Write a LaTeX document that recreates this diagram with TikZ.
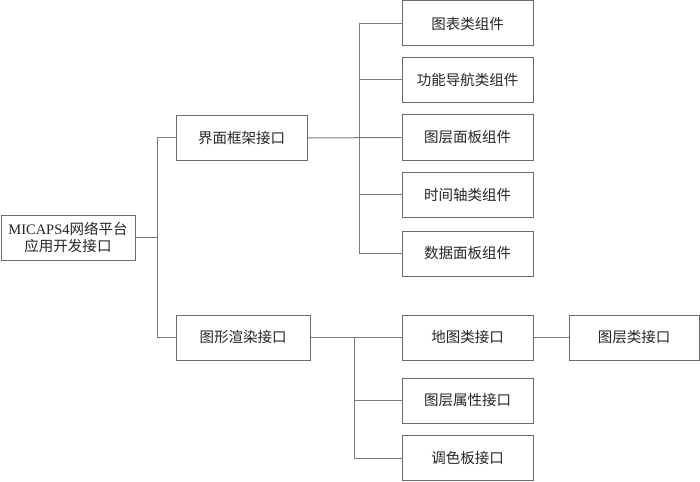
\documentclass[tikz,border=0pt]{standalone}
\usepackage{fontspec}
\setmainfont{Liberation Serif}
\newfontfamily\cjk{Noto Sans CJK SC}
\definecolor{edge}{HTML}{6A6A6A}
\definecolor{wire}{HTML}{7A7A7A}
\begin{document}
\begin{tikzpicture}[x=1pt,y=-1pt,
  box/.style={draw=edge,line width=1pt,fill=white,inner sep=0pt,minimum height=45pt,minimum width=131pt,font=\cjk\fontsize{14.5}{17}\selectfont,text=black!85,align=center},
  wire/.style={draw=wire,line width=1pt}]
\useasboundingbox (0,0) rectangle (700,481);
\node[box,minimum width=134pt] (root) at (68,237.5) {{\fontspec{Liberation Serif}MICAPS4}网络平台\\应用开发接口};
\node[box] (ui) at (241.5,138) {界面框架接口};
\node[box,minimum width=134pt] (render) at (243,337.5) {图形渲染接口};
\node[box] (c1) at (467.5,23.5) {图表类组件};
\node[box] (c2) at (467.5,80) {功能导航类组件};
\node[box] (c3) at (467.5,137.5) {图层面板组件};
\node[box] (c4) at (467.5,194.5) {时间轴类组件};
\node[box] (c5) at (467.5,253.5) {数据面板组件};
\node[box] (c6) at (467.5,337.5) {地图类接口};
\node[box] (c7) at (467.5,400.5) {图层属性接口};
\node[box] (c8) at (467.5,458) {调色板接口};
\node[box,minimum width=130pt] (layer) at (634,337.5) {图层类接口};
\coordinate (t) at (157,237.5);
\draw[wire] (root.east) -- (t);
\draw[wire] (t) |- (ui.west);
\draw[wire] (t) |- (render.west);
\draw[wire] (ui.east) -- (c3.west);
\coordinate (v1) at (359,138);
\draw[wire] (v1) |- (c1.west);
\draw[wire] (v1) |- (c2.west);
\draw[wire] (v1) |- (c4.west);
\draw[wire] (v1) |- (c5.west);
\draw[wire] (render.east) -- (c6.west);
\coordinate (v2) at (354,337.5);
\draw[wire] (v2) |- (c7.west);
\draw[wire] (v2) |- (c8.west);
\draw[wire] (c6.east) -- (layer.west);
\end{tikzpicture}
\end{document}
